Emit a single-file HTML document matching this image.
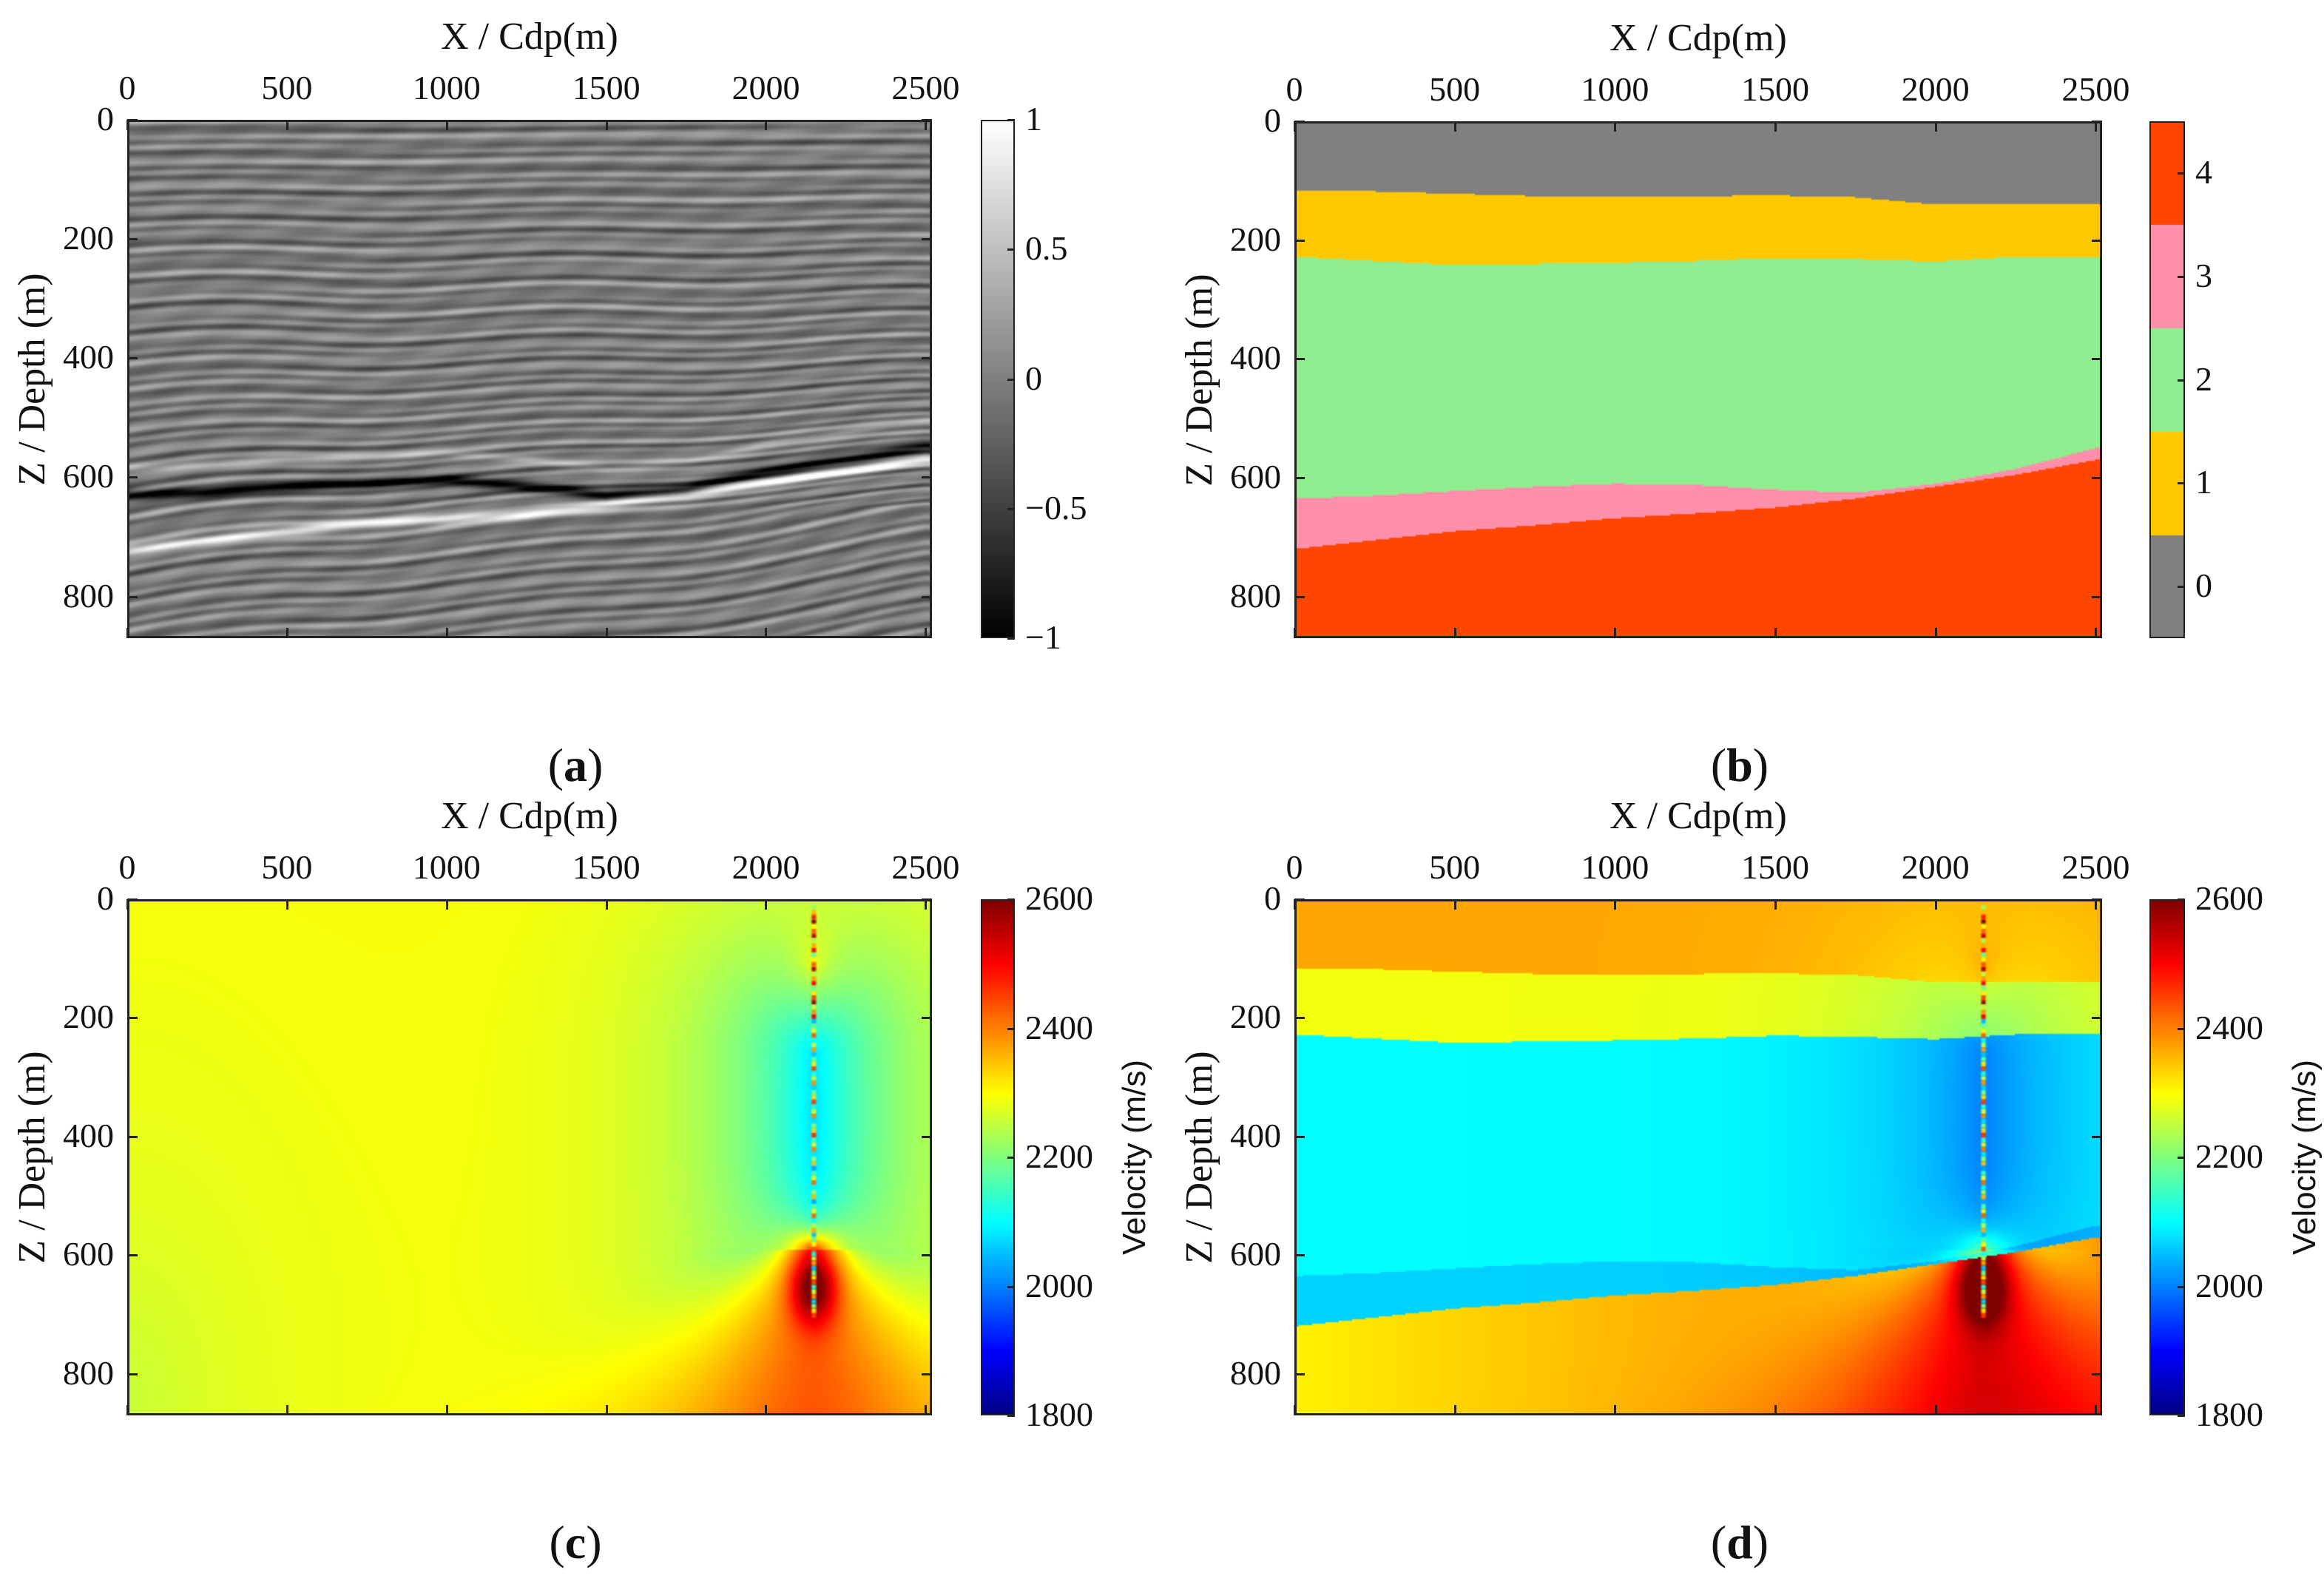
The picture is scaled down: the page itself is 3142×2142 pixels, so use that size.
<!DOCTYPE html>
<html><head><meta charset="utf-8">
<style>
html,body{margin:0;padding:0;background:#fff;}
#root{position:relative;width:3142px;height:2142px;overflow:hidden;background:#fff;font-family:"Liberation Serif",serif;color:#111;}
canvas{position:absolute;image-rendering:auto;}
.tk{position:absolute;font-size:46px;line-height:1;white-space:nowrap;}
.frame{position:absolute;border:3px solid #222;box-sizing:border-box;}
.tick{position:absolute;background:#222;}
</style></head>
<body>
<div id="root"></div>
<script>
// ---- data arrays ----
const xTicks=[0,500,1000,1500,2000,2500];
const zTicks=[0,200,400,600,800];
const xMax=2520, zMax=870;
const b01=[118,118,122,126,128,126,125,128,140,140,140];
const b12=[228,235,242,240,238,235,230,232,236,228,228];
const b23=[635,630,622,615,610,612,620,625,610,585,550];
const b34=[720,705,690,680,668,660,650,635,615,595,570];
const darkEvent=[630,625,615,610,605,615,630,620,590,570,550];
const whiteEvent=[722,705,690,678,670,660,645,630,610,590,570];
const classColors=['#808080','#ffc800','#90ee90','#ff8fab','#ff4500'];
const classTicks=[0,1,2,3,4];
const ampTicks=[1,0.5,0,-0.5,-1];
const ampLabels=['1','0.5','0','\u22120.5','\u22121'];
const velTicks=[2600,2400,2200,2000,1800];
const layerVelD=[2370,2290,2100,2065,2310];
const wellX=2150;

const root=document.getElementById('root');
function interp(arr,x){const s=2500/(arr.length-1);let i=Math.floor(x/s);if(i<0)i=0;if(i>=arr.length-1)return arr[arr.length-1];const f=(x-i*s)/s;return arr[i]*(1-f)+arr[i+1]*f;}
function jet(t){t=Math.max(0,Math.min(1,t));const c=v=>Math.round(255*Math.max(0,Math.min(1,v)));return [c(1.5-Math.abs(4*t-3)),c(1.5-Math.abs(4*t-2)),c(1.5-Math.abs(4*t-1))];}
function hexRgb(h){return [parseInt(h.substr(1,2),16),parseInt(h.substr(3,2),16),parseInt(h.substr(5,2),16)];}
function cls(x,z){if(z<interp(b01,x))return 0;if(z<interp(b12,x))return 1;if(z<interp(b23,x))return 2;if(z<interp(b34,x))return 3;return 4;}
function wellField(x,z){
 const dx=Math.abs(x-wellX);let v=0;
 const dzl=z<260?260-z:(z>540?z-540:0);
 v-=250*Math.exp(-Math.hypot(dx*0.8,dzl*1.3)/230);
 v+=90*Math.exp(-Math.hypot(dx,(z-110)*1.2)/70);
 if(z>590){const w=110+(z-590)*1.3;v+=(170+160*Math.exp(-(z-590)/130))*Math.exp(-Math.pow(dx/w,1.6));}
 else {v+=300*Math.exp(-Math.hypot(dx,(590-z)*2.5)/90);}
 const r=Math.hypot(dx,(z-655)*1.2)/75;v+=230*Math.exp(-r*r);
 return v;}

function mk(tag,cls_,name,css){const e=document.createElement(tag);if(cls_)e.className=cls_;

Object.assign(e.style,css||{});root.appendChild(e);return e;}

function panel(P){
 const W=P.x1-P.x0,H=P.y1-P.y0;
 const cv=document.createElement('canvas');
 
 
 const cw=Math.round(W/2),ch=Math.round(H/2);cv.width=cw;cv.height=ch;
 Object.assign(cv.style,{left:P.x0+'px',top:P.y0+'px',width:W+'px',height:H+'px'});root.appendChild(cv);
 const ctx=cv.getContext('2d');const img=ctx.createImageData(cw,ch);
 for(let j=0;j<ch;j++){const z=(j+0.5)/ch*zMax;for(let i=0;i<cw;i++){const x=(i+0.5)/cw*xMax;const c=P.pix(x,z);const k=(j*cw+i)*4;img.data[k]=c[0];img.data[k+1]=c[1];img.data[k+2]=c[2];img.data[k+3]=255;}}
 ctx.putImageData(img,0,0);
 if(P.well){for(let z=10;z<700;z+=8){const i=wellX/xMax*cw;const t=(2250+((z*37)%90-45)*5+(z<200?150:0)-1800)/800;const c=jet(t);ctx.fillStyle=`rgb(${c})`;ctx.fillRect(i-1.5,z/zMax*ch,3,3);}}
 mk('div','frame',P.id+'-plot-frame',{left:P.x0+'px',top:P.y0+'px',width:W+'px',height:H+'px'});
 xTicks.forEach(v=>{const px=P.x0+v/xMax*W;
  const t=mk('div','tk',P.id+'-x-tick-label',{left:(px-60)+'px',top:(P.y0-66)+'px',width:'120px',textAlign:'center'});t.textContent=v;
  mk('div','tick',P.id+'-x-tick',{left:(px-1)+'px',top:P.y0+'px',width:'3px',height:'14px'});
  mk('div','tick',P.id+'-x-tick',{left:(px-1)+'px',top:(P.y1-14)+'px',width:'3px',height:'14px'});});
 zTicks.forEach(v=>{const py=P.y0+v/zMax*H;
  const t=mk('div','tk',P.id+'-z-tick-label',{left:(P.x0-130)+'px',top:(py-24)+'px',width:'112px',textAlign:'right'});t.textContent=v;
  mk('div','tick',P.id+'-z-tick',{left:P.x0+'px',top:(py-1)+'px',width:'14px',height:'3px'});
  mk('div','tick',P.id+'-z-tick',{left:(P.x1-14)+'px',top:(py-1)+'px',width:'14px',height:'3px'});});
 const xt=mk('div','tk',P.id+'-x-axis-title',{left:(P.x0+W/2-300)+'px',top:(P.y0-138)+'px',width:'600px',textAlign:'center',fontSize:'52px'});xt.textContent='X / Cdp(m)';
 const yt=mk('div','tk',P.id+'-z-axis-title',{left:(P.x0-128-200)+'px',top:(P.y0+H/2-26)+'px',width:'400px',height:'52px',textAlign:'center',fontSize:'52px',transform:'rotate(-90deg)',transformOrigin:'200px 26px'});
 yt.textContent='Z / Depth (m)';
 const lb=mk('div','tk',P.id+'-caption',{left:(P.cap-100)+'px',top:(P.y1+140)+'px',width:'200px',textAlign:'center',fontSize:'64px'});
 lb.innerHTML='(<b>'+P.letter+'</b>)';
 const cb=document.createElement('canvas');
 
 
 cb.width=1;cb.height=H;Object.assign(cb.style,{left:P.cb0+'px',top:P.y0+'px',width:(P.cb1-P.cb0)+'px',height:H+'px'});root.appendChild(cb);
 const cc=cb.getContext('2d');for(let j=0;j<H;j++){const c=P.cbcol(1-j/H);cc.fillStyle=`rgb(${c})`;cc.fillRect(0,j,1,1);}
 mk('div','frame',P.id+'-colorbar-frame',{left:P.cb0+'px',top:P.y0+'px',width:(P.cb1-P.cb0)+'px',height:H+'px',borderWidth:'2px'});
 P.cbTicks.forEach((v,k)=>{const py=P.y0+(1-P.cbFrac(v))*H;
  mk('div','tick',P.id+'-colorbar-tick',{left:(P.cb1-10)+'px',top:(py-1)+'px',width:'10px',height:'3px'});
  const t=mk('div','tk',P.id+'-colorbar-label',{left:(P.cb1+14)+'px',top:(py-24)+'px'});t.textContent=P.cbLabels[k];});
 if(P.cbTitle){const t=mk('div','tk',P.id+'-colorbar-title',{left:(P.cb1+164-200)+'px',top:(P.y0+H/2-24)+'px',width:'400px',height:'48px',textAlign:'center',fontFamily:'"Liberation Sans",sans-serif',fontSize:'44px',transform:'rotate(-90deg)'});t.textContent=P.cbTitle;}
}

const L={x0:172,x1:1260,cb0:1326,cb1:1372,cap:778};
const R={x0:1750,x1:2842,cb0:2906,cb1:2954,cap:2352};
panel(Object.assign({id:'panel-a',letter:'a',y0:162,y1:863},L,{
 pix:(x,z)=>{const sh=(interp(b34,x)-720)*Math.min(1,Math.pow(z/650,3));const u=z-sh+6*Math.sin(x/170)*Math.min(1,z/300);
  let a=0.22*Math.sin(u/3.4+0.4*Math.sin(x/230))+0.14*Math.sin(u/5.9+1.3+x/700)+0.1*Math.sin(u/2.3+x/300)+0.06*Math.sin(x/37+u/9);
  a+=-1.1*Math.exp(-Math.pow((z-interp(darkEvent,x))/9,2))+1.1*Math.exp(-Math.pow((z-interp(whiteEvent,x))/8,2));
  a+=0.4*Math.exp(-Math.pow((z-interp(darkEvent,x)+45)/7,2));
  const g=Math.round(255*Math.max(0,Math.min(1,0.48+0.45*a)));return [g,g,g];},
 cbcol:t=>{const g=Math.round(255*t);return [g,g,g];},cbTicks:ampTicks,cbLabels:ampLabels,cbFrac:v=>(v+1)/2}));
panel(Object.assign({id:'panel-b',letter:'b',y0:164,y1:863},R,{
 pix:(x,z)=>hexRgb(classColors[cls(x,z)]),
 cbcol:t=>hexRgb(classColors[Math.min(4,Math.floor(t*5))]),cbTicks:classTicks,cbLabels:classTicks.map(String),cbFrac:v=>(v+0.5)/5}));
panel(Object.assign({id:'panel-c',letter:'c',y0:1216,y1:1914,well:true},L,{
 pix:(x,z)=>{let v=2300-45*Math.exp(-Math.hypot(x,z-870)/500)+wellField(x,z)*0.9;return jet((v-1800)/800);},
 cbcol:t=>jet(t),cbTicks:velTicks,cbLabels:velTicks.map(String),cbFrac:v=>(v-1800)/800,cbTitle:'Velocity (m/s)'}));
panel(Object.assign({id:'panel-d',letter:'d',y0:1216,y1:1914,well:true},R,{
 pix:(x,z)=>{const c=cls(x,z);let v=layerVelD[c];if(c===4)v+=x/2500*120;v+=wellField(x,z)*(c===4?0.8:0.4);return jet((v-1800)/800);},
 cbcol:t=>jet(t),cbTicks:velTicks,cbLabels:velTicks.map(String),cbFrac:v=>(v-1800)/800,cbTitle:'Velocity (m/s)'}));
</script>
</body></html>
